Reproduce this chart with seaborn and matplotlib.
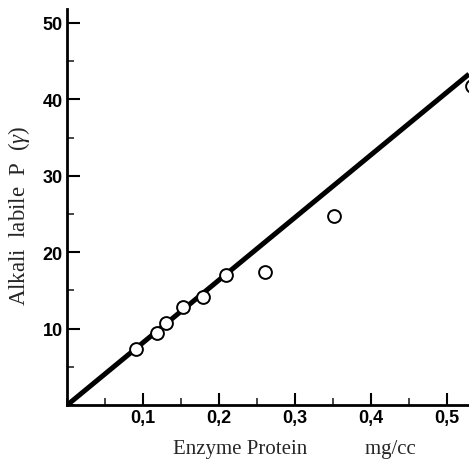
import matplotlib
matplotlib.use("Agg")
import matplotlib.pyplot as plt
import seaborn as sns
import pandas as pd
from matplotlib.ticker import FixedLocator, MultipleLocator

# Data
enzyme_protein = [0.091, 0.119, 0.130, 0.152, 0.179, 0.209, 0.261, 0.351, 0.533]
alkali_labile_p = [7.4, 9.4, 10.8, 12.8, 14.1, 17.0, 17.4, 24.7, 41.7]
fit_x = [0.0, 0.529]
fit_y = [0.0, 43.3]
x_ticks = [0.1, 0.2, 0.3, 0.4, 0.5]
x_tick_labels = ["0,1", "0,2", "0,3", "0,4", "0,5"]
y_ticks = [10, 20, 30, 40, 50]
y_tick_labels = ["10", "20", "30", "40", "50"]

sns.set_style("ticks")
plt.rcParams["font.family"] = ["Liberation Sans", "DejaVu Sans"]
plt.rcParams["mathtext.fontset"] = "custom"
plt.rcParams["mathtext.rm"] = "Liberation Serif"
plt.rcParams["mathtext.it"] = "Liberation Serif:italic"
plt.rcParams["mathtext.bf"] = "Liberation Serif:bold"

fig = plt.figure(figsize=(4.69, 4.60), dpi=100)
ax = fig.add_axes([0.143, 0.117, 0.857, 0.861])

pts = pd.DataFrame({"x": enzyme_protein, "y": alkali_labile_p})
fit = pd.DataFrame({"x": fit_x, "y": fit_y})

sns.lineplot(data=fit, x="x", y="y", ax=ax, color="black", linewidth=3.6,
             solid_capstyle="butt")
sns.scatterplot(data=pts, x="x", y="y", ax=ax, s=85, facecolor="white",
                edgecolor="black", linewidth=1.4, zorder=5, clip_on=True)

ax.set_xlim(0, 0.529)
ax.set_ylim(0, 51.8)

for s in ["top", "right"]:
    ax.spines[s].set_visible(False)
for s in ["left", "bottom"]:
    ax.spines[s].set_linewidth(2.0)
    ax.spines[s].set_color("black")

ax.xaxis.set_major_locator(FixedLocator(x_ticks))
ax.set_xticklabels(x_tick_labels)
ax.yaxis.set_major_locator(FixedLocator(y_ticks))
ax.set_yticklabels(y_tick_labels)
ax.xaxis.set_minor_locator(MultipleLocator(0.05))
ax.yaxis.set_minor_locator(MultipleLocator(5))

ax.tick_params(axis="both", which="major", direction="in", length=9, width=1.5,
               labelsize=13, pad=3, colors="black")
ax.tick_params(axis="both", which="minor", direction="in", length=5, width=1.2)
for lbl in ax.get_xticklabels() + ax.get_yticklabels():
    lbl.set_fontweight("bold")

ax.set_xlabel("Enzyme Protein           mg/cc", family="Liberation Serif",
              fontsize=15)
ax.xaxis.set_label_coords(0.565, -0.085)
ax.set_ylabel(r"Alkali  labile  P  ($\gamma$)", family="Liberation Serif",
              fontsize=16.5)
ax.yaxis.set_label_coords(-0.088, 0.48)

fig.savefig("out.png", dpi=100)
